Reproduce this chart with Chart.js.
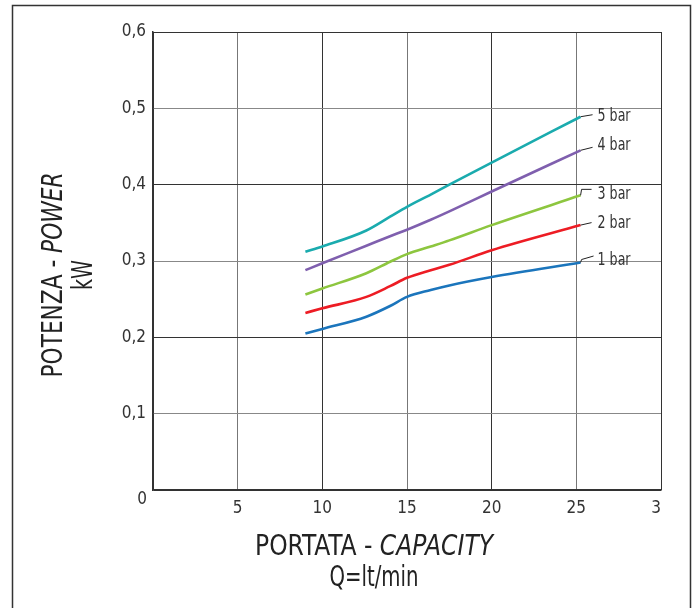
<!DOCTYPE html>
<html>
<head>
<meta charset="utf-8">
<script src="https://cdn.jsdelivr.net/npm/chart.js@4/dist/chart.umd.min.js"></script>
<style>
  html, body { margin: 0; padding: 0; background: #fff; }
  #wrap { width: 700px; height: 608px; }
</style>
</head>
<body>
<div id="wrap"><canvas id="canvas"></canvas></div>
<script>
const FONT = '"Liberation Sans Narrow", "DejaVu Sans Condensed", sans-serif';

// portata Q (lt/min)
const capacity = [9, 10, 12.6, 14, 15, 16.4, 17.5, 20, 25.25];
// potenza (kW) per pressione
const bar1 = [0.205, 0.211, 0.227, 0.241, 0.253, 0.262, 0.268, 0.279, 0.298];
const bar2 = [0.232, 0.238, 0.253, 0.267, 0.278, 0.288, 0.295, 0.314, 0.347];
const bar3 = [0.256, 0.264, 0.284, 0.299, 0.309, 0.319, 0.327, 0.347, 0.386];
const bar4 = [0.288, 0.297, 0.320, 0.3325, 0.341, 0.354, 0.365, 0.391, 0.445];
const bar5 = [0.312, 0.319, 0.340, 0.358, 0.371, 0.387, 0.400, 0.429, 0.489];
const seriesNames = ['1 bar', '2 bar', '3 bar', '4 bar', '5 bar'];
const xTicks = [0, 5, 10, 15, 20, 25, 30];
const yTicks = [0, 0.1, 0.2, 0.3, 0.4, 0.5, 0.6];

const colors = ['#1b75bc', '#ed1c24', '#8dc63f', '#7f5fae', '#1aabae'];
// leader line offsets from the curve end, and label offset
const leaders = [
  [[1, -3], [13, -6.5]],
  [[11, -2.5]],
  [[1, -6], [11, -6]],
  [[12, -3]],
  [[12, -2]]
];
const labelDy = [-2, -2, -1, -5, 0];

const series = [bar1, bar2, bar3, bar4, bar5];
const datasets = series.map((vals, i) => ({
  label: seriesNames[i],
  data: vals.map((v, j) => ({ x: capacity[j], y: v })),
  borderColor: colors[i],
  borderWidth: 2.6,
  pointRadius: 0,
  fill: false,
  cubicInterpolationMode: 'monotone'
}));

// draws text squeezed horizontally (the original uses a condensed face)
function squeezed(ctx, parts, size, cx, cy, width) {
  let total = 0;
  parts.forEach(p => { ctx.font = p[1] + size + 'px ' + FONT; total += ctx.measureText(p[0]).width; });
  const k = width ? width / total : 1;
  ctx.save();
  ctx.translate(cx, cy);
  ctx.scale(k, 1);
  ctx.textAlign = 'left';
  let x = -total / 2;
  parts.forEach(p => {
    ctx.font = p[1] + size + 'px ' + FONT;
    ctx.fillText(p[0], x, 0);
    x += ctx.measureText(p[0]).width;
  });
  ctx.restore();
}

const decorations = {
  id: 'decorations',
  beforeDraw(chart) {
    const ctx = chart.ctx;
    ctx.save();
    ctx.strokeStyle = '#333';
    ctx.lineWidth = 1.5;
    ctx.beginPath();
    ctx.moveTo(12.5, 640);
    ctx.lineTo(12.5, 5.5);
    ctx.lineTo(690.5, 5.5);
    ctx.lineTo(690.5, 640);
    ctx.stroke();
    ctx.restore();
  },
  afterDraw(chart) {
    const ctx = chart.ctx;
    const xs = chart.scales.x, ys = chart.scales.y;
    ctx.save();
    // cut the "30" label at the right edge of the plot like the original
    ctx.fillStyle = '#fff';
    ctx.fillRect(xs.right, ys.bottom + 4, 25, 24);

    // origin label
    ctx.fillStyle = '#333';
    ctx.font = '17px ' + FONT;
    ctx.textAlign = 'right';
    ctx.textBaseline = 'middle';
    ctx.fillText('0', xs.left - 6, ys.bottom + 10);

    // series labels with leader lines
    chart.data.datasets.forEach((ds, i) => {
      const meta = chart.getDatasetMeta(i);
      const end = meta.data[meta.data.length - 1];
      ctx.strokeStyle = '#222';
      ctx.lineWidth = 1;
      ctx.beginPath();
      ctx.moveTo(end.x, end.y);
      leaders[i].forEach(p => ctx.lineTo(end.x + p[0], end.y + p[1]));
      ctx.stroke();
      ctx.fillStyle = '#333';
      ctx.font = '18px ' + FONT;
      const w = ctx.measureText(ds.label).width * 0.78;
      squeezed(ctx, [[ds.label, '']], 18, end.x + 17 + w / 2, end.y + labelDy[i], w);
    });

    // axis titles with italic parts
    ctx.fillStyle = '#222';
    ctx.textBaseline = 'middle';
    squeezed(ctx, [['PORTATA - ', ''], ['CAPACITY', 'italic ']], 29, 374, 547, 238);
    squeezed(ctx, [['Q=lt/min', '']], 29, 374, 578, 89);

    ctx.translate(55, 275);
    ctx.rotate(-Math.PI / 2);
    squeezed(ctx, [['POTENZA - ', ''], ['POWER', 'italic ']], 28, 0, 0, 205);
    squeezed(ctx, [['kW', '']], 28, 0, 30, 30);
    ctx.restore();
  }
};

const gridColor = (ctx) => {
  const v = ctx.tick ? ctx.tick.value : 0;
  if (ctx.scale.axis === 'x') return (v / 5) % 2 === 1 ? '#777' : '#333';
  return Math.round(v * 10) % 2 === 1 ? '#888' : '#333';
};

new Chart(document.getElementById('canvas'), {
  type: 'line',
  data: { datasets },
  options: {
    responsive: true,
    maintainAspectRatio: false,
    animation: false,
    layout: { padding: { left: 0, top: 32, right: 39, bottom: 0 } },
    plugins: { legend: { display: false }, tooltip: { enabled: false } },
    scales: {
      x: {
        type: 'linear',
        min: 0,
        max: 30,
        afterBuildTicks: (s) => { s.ticks = xTicks.map(v => ({ value: v })); },
        afterFit: (s) => { s.height = 118; },
        grid: { color: gridColor, lineWidth: 1, drawTicks: false },
        border: { color: '#333', width: 1.5 },
        ticks: {
          padding: 8,
          color: '#333',
          font: { family: FONT, size: 17 },
          callback: (v) => v === 0 ? '' : String(v)
        }
      },
      y: {
        min: 0,
        max: 0.6,
        afterBuildTicks: (s) => { s.ticks = yTicks.map(v => ({ value: v })); },
        afterFit: (s) => { s.width = 153; },
        grid: { color: gridColor, lineWidth: 1, drawTicks: false },
        border: { color: '#333', width: 1.5 },
        ticks: {
          padding: 7,
          color: '#333',
          font: { family: FONT, size: 17 },
          callback: (v) => v === 0 ? '' : v.toFixed(1).replace('.', ',')
        }
      }
    }
  },
  plugins: [decorations]
});
</script>
</body>
</html>
